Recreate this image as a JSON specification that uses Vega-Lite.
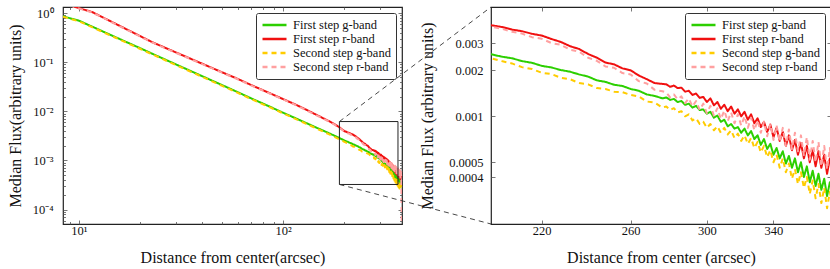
{
"$schema": "https://vega.github.io/schema/vega-lite/v6.json",
"padding": {"left": 6, "top": 5, "right": 0, "bottom": 0},
"background": "white",
"bounds": "flush",
"spacing": 89,
"config": {
  "font": "Liberation Serif",
  "view": {"stroke": "#222", "strokeWidth": 1.2},
  "axis": {"domain": false, "grid": false, "labelFont": "Liberation Serif", "titleFont": "Liberation Serif", "labelFontSize": 12.5, "titleFontSize": 16, "titleFontWeight": "normal", "labelColor": "#111", "titleColor": "#111", "tickColor": "#555", "tickWidth": 0.8},
  "legend": {"orient": "top-right", "offset": 6, "padding": 5, "strokeColor": "#333", "fillColor": "white", "cornerRadius": 2, "labelFont": "Liberation Serif", "labelFontSize": 12.5, "labelColor": "#111", "symbolType": "stroke", "symbolSize": 576, "symbolStrokeWidth": 2.5, "clipHeight": 14, "rowPadding": 0, "labelOffset": 5}
},
"resolve": {"scale": {"color": "independent", "strokeDash": "independent"}},
"datasets": {
"prof": [
{"s":"First step g-band","r":8.35,"f":0.86},{"s":"First step g-band","r":9,"f":0.79},{"s":"First step g-band","r":10,"f":0.70},{"s":"First step g-band","r":11,"f":0.586},{"s":"First step g-band","r":12,"f":0.498},{"s":"First step g-band","r":13.5,"f":0.399},{"s":"First step g-band","r":15,"f":0.328},{"s":"First step g-band","r":17.5,"f":0.246},{"s":"First step g-band","r":20,"f":0.192},{"s":"First step g-band","r":25,"f":0.126},{"s":"First step g-band","r":30,"f":0.0896},{"s":"First step g-band","r":40,"f":0.0524},{"s":"First step g-band","r":50,"f":0.0346},{"s":"First step g-band","r":60,"f":0.0246},{"s":"First step g-band","r":70,"f":0.0183},{"s":"First step g-band","r":85,"f":0.0128},{"s":"First step g-band","r":100,"f":0.00939},{"s":"First step g-band","r":115,"f":0.00727},{"s":"First step g-band","r":130,"f":0.00578},{"s":"First step g-band","r":145,"f":0.00471},{"s":"First step g-band","r":160,"f":0.00393},{"s":"First step g-band","r":175,"f":0.00333},{"s":"First step g-band","r":188,"f":0.0029},
{"s":"First step g-band","r":200,"f":0.00255},{"s":"First step g-band","r":204,"f":0.00246},{"s":"First step g-band","r":208,"f":0.00240},{"s":"First step g-band","r":212,"f":0.00230},{"s":"First step g-band","r":216,"f":0.00224},{"s":"First step g-band","r":220,"f":0.00214},{"s":"First step g-band","r":224,"f":0.00209},{"s":"First step g-band","r":228,"f":0.00201},{"s":"First step g-band","r":232,"f":0.00196},{"s":"First step g-band","r":236,"f":0.00188},{"s":"First step g-band","r":240,"f":0.00182},{"s":"First step g-band","r":244,"f":0.00172},{"s":"First step g-band","r":248,"f":0.00168},{"s":"First step g-band","r":252,"f":0.00161},{"s":"First step g-band","r":256,"f":0.00158},{"s":"First step g-band","r":260,"f":0.00151},{"s":"First step g-band","r":264,"f":0.00147},{"s":"First step g-band","r":268,"f":0.00139},{"s":"First step g-band","r":272,"f":0.00136},{"s":"First step g-band","r":276,"f":0.00131},
{"s":"First step g-band","r":278,"f":0.00133},{"s":"First step g-band","r":280,"f":0.00128},{"s":"First step g-band","r":282,"f":0.00130},{"s":"First step g-band","r":284,"f":0.00124},{"s":"First step g-band","r":286,"f":0.00126},{"s":"First step g-band","r":288,"f":0.00119},{"s":"First step g-band","r":290,"f":0.00121},{"s":"First step g-band","r":292,"f":0.00114},{"s":"First step g-band","r":294,"f":0.00117},{"s":"First step g-band","r":296,"f":0.00110},{"s":"First step g-band","r":298,"f":0.00111},{"s":"First step g-band","r":300,"f":0.00104},{"s":"First step g-band","r":302,"f":0.00107},{"s":"First step g-band","r":304,"f":0.00098},{"s":"First step g-band","r":306,"f":0.00101},{"s":"First step g-band","r":308,"f":0.00092},{"s":"First step g-band","r":310,"f":0.00095},{"s":"First step g-band","r":312,"f":0.00086},{"s":"First step g-band","r":314,"f":0.00089},{"s":"First step g-band","r":316,"f":0.00083},{"s":"First step g-band","r":318,"f":0.00085},{"s":"First step g-band","r":320,"f":0.00078},{"s":"First step g-band","r":322,"f":0.00083},{"s":"First step g-band","r":324,"f":0.00075},{"s":"First step g-band","r":326,"f":0.00080},{"s":"First step g-band","r":328,"f":0.00071},{"s":"First step g-band","r":330,"f":0.00075},{"s":"First step g-band","r":332,"f":0.00065},{"s":"First step g-band","r":334,"f":0.00071},{"s":"First step g-band","r":336,"f":0.00061},{"s":"First step g-band","r":338,"f":0.00066},{"s":"First step g-band","r":340,"f":0.00056},{"s":"First step g-band","r":342,"f":0.00062},{"s":"First step g-band","r":344,"f":0.00053},{"s":"First step g-band","r":346,"f":0.00059},{"s":"First step g-band","r":348,"f":0.00049},{"s":"First step g-band","r":350,"f":0.00055},{"s":"First step g-band","r":352,"f":0.00046},{"s":"First step g-band","r":354,"f":0.00053},{"s":"First step g-band","r":356,"f":0.00043},{"s":"First step g-band","r":358,"f":0.00050},{"s":"First step g-band","r":360,"f":0.00040},{"s":"First step g-band","r":362,"f":0.00047},{"s":"First step g-band","r":364,"f":0.00037},{"s":"First step g-band","r":366,"f":0.00044},{"s":"First step g-band","r":368,"f":0.00035},{"s":"First step g-band","r":370,"f":0.00042},{"s":"First step g-band","r":372,"f":0.00033},{"s":"First step g-band","r":374,"f":0.00039},{"s":"First step g-band","r":376,"f":0.00030},{"s":"First step g-band","r":378,"f":0.00037},{"s":"First step g-band","r":380,"f":0.00031},

{"s":"First step r-band","r":9,"f":1.45},{"s":"First step r-band","r":10,"f":1.26},{"s":"First step r-band","r":10.8,"f":1.147},{"s":"First step r-band","r":11.6,"f":1.05},{"s":"First step r-band","r":13,"f":0.829},{"s":"First step r-band","r":15,"f":0.615},{"s":"First step r-band","r":18,"f":0.421},{"s":"First step r-band","r":22.8,"f":0.257},{"s":"First step r-band","r":30,"f":0.157},{"s":"First step r-band","r":40,"f":0.094},{"s":"First step r-band","r":50,"f":0.063},{"s":"First step r-band","r":60,"f":0.0458},{"s":"First step r-band","r":70.5,"f":0.0337},{"s":"First step r-band","r":85,"f":0.024},{"s":"First step r-band","r":100,"f":0.0178},{"s":"First step r-band","r":115,"f":0.0138},{"s":"First step r-band","r":130,"f":0.0108},{"s":"First step r-band","r":145,"f":0.0086},{"s":"First step r-band","r":160,"f":0.0070},{"s":"First step r-band","r":175,"f":0.0058},{"s":"First step r-band","r":188,"f":0.0048},
{"s":"First step r-band","r":200,"f":0.00395},{"s":"First step r-band","r":204,"f":0.00385},{"s":"First step r-band","r":208,"f":0.00370},{"s":"First step r-band","r":212,"f":0.00361},{"s":"First step r-band","r":216,"f":0.00347},{"s":"First step r-band","r":220,"f":0.00338},{"s":"First step r-band","r":224,"f":0.00321},{"s":"First step r-band","r":228,"f":0.00307},{"s":"First step r-band","r":232,"f":0.00288},{"s":"First step r-band","r":236,"f":0.00276},{"s":"First step r-band","r":240,"f":0.00256},{"s":"First step r-band","r":244,"f":0.00242},{"s":"First step r-band","r":248,"f":0.00225},{"s":"First step r-band","r":252,"f":0.00219},{"s":"First step r-band","r":256,"f":0.00206},{"s":"First step r-band","r":260,"f":0.00200},{"s":"First step r-band","r":264,"f":0.00185},{"s":"First step r-band","r":268,"f":0.00175},{"s":"First step r-band","r":272,"f":0.00165},{"s":"First step r-band","r":276,"f":0.00163},
{"s":"First step r-band","r":278,"f":0.00162},{"s":"First step r-band","r":280,"f":0.00156},{"s":"First step r-band","r":282,"f":0.00159},{"s":"First step r-band","r":284,"f":0.00153},{"s":"First step r-band","r":286,"f":0.00154},{"s":"First step r-band","r":288,"f":0.00145},{"s":"First step r-band","r":290,"f":0.00147},{"s":"First step r-band","r":292,"f":0.00138},{"s":"First step r-band","r":294,"f":0.00141},{"s":"First step r-band","r":296,"f":0.00132},{"s":"First step r-band","r":298,"f":0.00134},{"s":"First step r-band","r":300,"f":0.00124},{"s":"First step r-band","r":302,"f":0.00131},{"s":"First step r-band","r":304,"f":0.00118},{"s":"First step r-band","r":306,"f":0.00124},{"s":"First step r-band","r":308,"f":0.00112},{"s":"First step r-band","r":310,"f":0.00119},{"s":"First step r-band","r":312,"f":0.00108},{"s":"First step r-band","r":314,"f":0.00116},{"s":"First step r-band","r":316,"f":0.00104},{"s":"First step r-band","r":318,"f":0.00111},{"s":"First step r-band","r":320,"f":0.00100},{"s":"First step r-band","r":322,"f":0.00107},{"s":"First step r-band","r":324,"f":0.00095},{"s":"First step r-band","r":326,"f":0.00103},{"s":"First step r-band","r":328,"f":0.00090},{"s":"First step r-band","r":330,"f":0.00097},{"s":"First step r-band","r":332,"f":0.00085},{"s":"First step r-band","r":334,"f":0.00092},{"s":"First step r-band","r":336,"f":0.00079},{"s":"First step r-band","r":338,"f":0.00088},{"s":"First step r-band","r":340,"f":0.00073},{"s":"First step r-band","r":342,"f":0.00084},{"s":"First step r-band","r":344,"f":0.00069},{"s":"First step r-band","r":346,"f":0.00079},{"s":"First step r-band","r":348,"f":0.00064},{"s":"First step r-band","r":350,"f":0.00075},{"s":"First step r-band","r":352,"f":0.00060},{"s":"First step r-band","r":354,"f":0.00070},{"s":"First step r-band","r":356,"f":0.00056},{"s":"First step r-band","r":358,"f":0.00067},{"s":"First step r-band","r":360,"f":0.00053},{"s":"First step r-band","r":362,"f":0.00064},{"s":"First step r-band","r":364,"f":0.00050},{"s":"First step r-band","r":366,"f":0.00060},{"s":"First step r-band","r":368,"f":0.00047},{"s":"First step r-band","r":370,"f":0.00059},{"s":"First step r-band","r":372,"f":0.00046},{"s":"First step r-band","r":374,"f":0.00056},{"s":"First step r-band","r":376,"f":0.00042},{"s":"First step r-band","r":378,"f":0.00053},{"s":"First step r-band","r":380,"f":0.00045},

{"s":"Second step g-band","r":8.35,"f":0.84},{"s":"Second step g-band","r":9,"f":0.77},{"s":"Second step g-band","r":10,"f":0.68},{"s":"Second step g-band","r":11,"f":0.57},{"s":"Second step g-band","r":12,"f":0.485},{"s":"Second step g-band","r":13.5,"f":0.388},{"s":"Second step g-band","r":15,"f":0.319},{"s":"Second step g-band","r":17.5,"f":0.239},{"s":"Second step g-band","r":20,"f":0.186},{"s":"Second step g-band","r":25,"f":0.122},{"s":"Second step g-band","r":30,"f":0.0868},{"s":"Second step g-band","r":40,"f":0.0507},{"s":"Second step g-band","r":50,"f":0.0335},{"s":"Second step g-band","r":60,"f":0.0238},{"s":"Second step g-band","r":70,"f":0.0177},{"s":"Second step g-band","r":85,"f":0.0124},{"s":"Second step g-band","r":100,"f":0.0091},{"s":"Second step g-band","r":115,"f":0.00703},{"s":"Second step g-band","r":130,"f":0.00558},{"s":"Second step g-band","r":145,"f":0.00453},{"s":"Second step g-band","r":160,"f":0.00377},{"s":"Second step g-band","r":175,"f":0.00316},{"s":"Second step g-band","r":188,"f":0.00272},
{"s":"Second step g-band","r":200,"f":0.00240},{"s":"Second step g-band","r":204,"f":0.00230},{"s":"Second step g-band","r":208,"f":0.00222},{"s":"Second step g-band","r":212,"f":0.00210},{"s":"Second step g-band","r":216,"f":0.00204},{"s":"Second step g-band","r":220,"f":0.00193},{"s":"Second step g-band","r":224,"f":0.00189},{"s":"Second step g-band","r":228,"f":0.00179},{"s":"Second step g-band","r":232,"f":0.00175},{"s":"Second step g-band","r":236,"f":0.00165},{"s":"Second step g-band","r":240,"f":0.00162},{"s":"Second step g-band","r":244,"f":0.00153},{"s":"Second step g-band","r":248,"f":0.00151},{"s":"Second step g-band","r":252,"f":0.00145},{"s":"Second step g-band","r":256,"f":0.00144},{"s":"Second step g-band","r":260,"f":0.00138},{"s":"Second step g-band","r":264,"f":0.00135},{"s":"Second step g-band","r":268,"f":0.00125},{"s":"Second step g-band","r":272,"f":0.00123},{"s":"Second step g-band","r":276,"f":0.00114},
{"s":"Second step g-band","r":278,"f":0.00116},{"s":"Second step g-band","r":280,"f":0.00110},{"s":"Second step g-band","r":282,"f":0.00113},{"s":"Second step g-band","r":284,"f":0.00106},{"s":"Second step g-band","r":286,"f":0.00108},{"s":"Second step g-band","r":288,"f":0.00100},{"s":"Second step g-band","r":290,"f":0.00103},{"s":"Second step g-band","r":292,"f":0.00094},{"s":"Second step g-band","r":294,"f":0.00097},{"s":"Second step g-band","r":296,"f":0.00089},{"s":"Second step g-band","r":298,"f":0.00092},{"s":"Second step g-band","r":300,"f":0.00084},{"s":"Second step g-band","r":302,"f":0.00089},{"s":"Second step g-band","r":304,"f":0.00081},{"s":"Second step g-band","r":306,"f":0.00086},{"s":"Second step g-band","r":308,"f":0.00078},{"s":"Second step g-band","r":310,"f":0.00084},{"s":"Second step g-band","r":312,"f":0.00076},{"s":"Second step g-band","r":314,"f":0.00081},{"s":"Second step g-band","r":316,"f":0.00072},{"s":"Second step g-band","r":318,"f":0.00077},{"s":"Second step g-band","r":320,"f":0.00069},{"s":"Second step g-band","r":322,"f":0.00075},{"s":"Second step g-band","r":324,"f":0.00066},{"s":"Second step g-band","r":326,"f":0.00072},{"s":"Second step g-band","r":328,"f":0.00062},{"s":"Second step g-band","r":330,"f":0.00068},{"s":"Second step g-band","r":332,"f":0.00058},{"s":"Second step g-band","r":334,"f":0.00064},{"s":"Second step g-band","r":336,"f":0.00054},{"s":"Second step g-band","r":338,"f":0.00060},{"s":"Second step g-band","r":340,"f":0.00050},{"s":"Second step g-band","r":342,"f":0.00056},{"s":"Second step g-band","r":344,"f":0.00046},{"s":"Second step g-band","r":346,"f":0.00053},{"s":"Second step g-band","r":348,"f":0.00043},{"s":"Second step g-band","r":350,"f":0.00049},{"s":"Second step g-band","r":352,"f":0.00039},{"s":"Second step g-band","r":354,"f":0.00045},{"s":"Second step g-band","r":356,"f":0.00036},{"s":"Second step g-band","r":358,"f":0.00043},{"s":"Second step g-band","r":360,"f":0.00034},{"s":"Second step g-band","r":362,"f":0.00040},{"s":"Second step g-band","r":364,"f":0.00031},{"s":"Second step g-band","r":366,"f":0.00038},{"s":"Second step g-band","r":368,"f":0.00029},{"s":"Second step g-band","r":370,"f":0.00036},{"s":"Second step g-band","r":372,"f":0.00027},{"s":"Second step g-band","r":374,"f":0.00034},{"s":"Second step g-band","r":376,"f":0.00025},{"s":"Second step g-band","r":378,"f":0.00032},{"s":"Second step g-band","r":380,"f":0.00026},

{"s":"Second step r-band","r":9,"f":1.43},{"s":"Second step r-band","r":10,"f":1.24},{"s":"Second step r-band","r":10.8,"f":1.13},{"s":"Second step r-band","r":11.6,"f":1.03},{"s":"Second step r-band","r":13,"f":0.815},{"s":"Second step r-band","r":15,"f":0.605},{"s":"Second step r-band","r":18,"f":0.414},{"s":"Second step r-band","r":22.8,"f":0.253},{"s":"Second step r-band","r":30,"f":0.154},{"s":"Second step r-band","r":40,"f":0.0925},{"s":"Second step r-band","r":50,"f":0.062},{"s":"Second step r-band","r":60,"f":0.045},{"s":"Second step r-band","r":70.5,"f":0.0331},{"s":"Second step r-band","r":85,"f":0.0236},{"s":"Second step r-band","r":100,"f":0.0175},{"s":"Second step r-band","r":115,"f":0.0136},{"s":"Second step r-band","r":130,"f":0.0106},{"s":"Second step r-band","r":145,"f":0.0084},{"s":"Second step r-band","r":160,"f":0.0069},{"s":"Second step r-band","r":175,"f":0.0057},{"s":"Second step r-band","r":188,"f":0.0047},
{"s":"Second step r-band","r":200,"f":0.00387},{"s":"Second step r-band","r":204,"f":0.00375},{"s":"Second step r-band","r":208,"f":0.00358},{"s":"Second step r-band","r":212,"f":0.00348},{"s":"Second step r-band","r":216,"f":0.00330},{"s":"Second step r-band","r":220,"f":0.00322},{"s":"Second step r-band","r":224,"f":0.00302},{"s":"Second step r-band","r":228,"f":0.00294},{"s":"Second step r-band","r":232,"f":0.00273},{"s":"Second step r-band","r":236,"f":0.00265},{"s":"Second step r-band","r":240,"f":0.00242},{"s":"Second step r-band","r":244,"f":0.00231},{"s":"Second step r-band","r":248,"f":0.00212},{"s":"Second step r-band","r":252,"f":0.00208},{"s":"Second step r-band","r":256,"f":0.00192},{"s":"Second step r-band","r":260,"f":0.00188},{"s":"Second step r-band","r":264,"f":0.00170},{"s":"Second step r-band","r":268,"f":0.00164},{"s":"Second step r-band","r":272,"f":0.00149},{"s":"Second step r-band","r":276,"f":0.00146},
{"s":"Second step r-band","r":278,"f":0.00143},{"s":"Second step r-band","r":280,"f":0.00133},{"s":"Second step r-band","r":282,"f":0.00139},{"s":"Second step r-band","r":284,"f":0.00129},{"s":"Second step r-band","r":286,"f":0.00135},{"s":"Second step r-band","r":288,"f":0.00122},{"s":"Second step r-band","r":290,"f":0.00131},{"s":"Second step r-band","r":292,"f":0.00116},{"s":"Second step r-band","r":294,"f":0.00126},{"s":"Second step r-band","r":296,"f":0.00110},{"s":"Second step r-band","r":298,"f":0.00121},{"s":"Second step r-band","r":300,"f":0.00105},{"s":"Second step r-band","r":302,"f":0.00117},{"s":"Second step r-band","r":304,"f":0.00101},{"s":"Second step r-band","r":306,"f":0.00113},{"s":"Second step r-band","r":308,"f":0.00096},{"s":"Second step r-band","r":310,"f":0.00109},{"s":"Second step r-band","r":312,"f":0.00093},{"s":"Second step r-band","r":314,"f":0.00106},{"s":"Second step r-band","r":316,"f":0.00090},{"s":"Second step r-band","r":318,"f":0.00103},{"s":"Second step r-band","r":320,"f":0.00087},{"s":"Second step r-band","r":322,"f":0.00100},{"s":"Second step r-band","r":324,"f":0.00084},{"s":"Second step r-band","r":326,"f":0.00098},{"s":"Second step r-band","r":328,"f":0.00081},{"s":"Second step r-band","r":330,"f":0.00094},{"s":"Second step r-band","r":332,"f":0.00078},{"s":"Second step r-band","r":334,"f":0.00092},{"s":"Second step r-band","r":336,"f":0.00074},{"s":"Second step r-band","r":338,"f":0.00089},{"s":"Second step r-band","r":340,"f":0.00070},{"s":"Second step r-band","r":342,"f":0.00087},{"s":"Second step r-band","r":344,"f":0.00068},{"s":"Second step r-band","r":346,"f":0.00084},{"s":"Second step r-band","r":348,"f":0.00064},{"s":"Second step r-band","r":350,"f":0.00082},{"s":"Second step r-band","r":352,"f":0.00061},{"s":"Second step r-band","r":354,"f":0.00078},{"s":"Second step r-band","r":356,"f":0.00059},{"s":"Second step r-band","r":358,"f":0.00075},{"s":"Second step r-band","r":360,"f":0.00055},{"s":"Second step r-band","r":362,"f":0.00073},{"s":"Second step r-band","r":364,"f":0.00052},{"s":"Second step r-band","r":366,"f":0.00069},{"s":"Second step r-band","r":368,"f":0.00050},{"s":"Second step r-band","r":370,"f":0.00068},{"s":"Second step r-band","r":372,"f":0.00047},{"s":"Second step r-band","r":374,"f":0.00064},{"s":"Second step r-band","r":376,"f":0.00045},{"s":"Second step r-band","r":378,"f":0.00062},{"s":"Second step r-band","r":380,"f":0.00040},{"s":"Second step r-band","r":382,"f":0.00005}
]
},
"hconcat": [
{
  "width": 339, "height": 217,
  "resolve": {"axis": {"x": "independent", "y": "independent"}},
  "layer": [
    {
      "data": {"name": "prof"},
      "mark": {"type": "line", "clip": true, "strokeWidth": 2, "strokeJoin": "round"},
      "encoding": {
        "x": {"field": "r", "type": "quantitative", "scale": {"type": "log", "domain": [8.35, 383], "nice": false},
              "axis": {"orient": "bottom", "values": [10, 100], "labelExpr": "datum.value < 50 ? '10¹' : '10²'", "tickSize": -4, "labelPadding": 4, "title": "Distance from center(arcsec)", "titlePadding": 13}},
        "y": {"field": "f", "type": "quantitative", "scale": {"type": "log", "domain": [0.000051, 1.33], "nice": false},
              "axis": {"orient": "left", "values": [0.0001, 0.001, 0.01, 0.1, 1], "labelExpr": "datum.value > 0.5 ? '10⁰' : datum.value > 0.05 ? '10⁻¹' : datum.value > 0.005 ? '10⁻²' : datum.value > 0.0005 ? '10⁻³' : '10⁻⁴'", "tickSize": -4, "labelPadding": 14, "title": "Median Flux(arbitrary units)", "titlePadding": 9}},
        "color": {"field": "s", "type": "nominal", "scale": {"domain": ["First step g-band", "First step r-band", "Second step g-band", "Second step r-band"], "range": ["#2ccf00", "#f01010", "#ffcc00", "#ffa0a0"]}, "legend": {"title": null}},
        "strokeDash": {"field": "s", "type": "nominal", "scale": {"domain": ["First step g-band", "First step r-band", "Second step g-band", "Second step r-band"], "range": [[1, 0], [1, 0], [5, 4], [5, 4]]}, "legend": {"title": null}}
      }
    },
    {
      "data": {"values": [{"r": 100, "f": 0.01}]},
      "mark": {"type": "point", "opacity": 0},
      "encoding": {
        "x": {"field": "r", "type": "quantitative", "axis": {"orient": "bottom", "values": [9, 20, 30, 40, 50, 60, 70, 80, 90, 200, 300], "labels": false, "tickSize": -2.5, "title": null}},
        "y": {"field": "f", "type": "quantitative", "axis": {"orient": "left", "values": [0.00006, 0.00007, 0.00008, 0.00009, 0.0002, 0.0003, 0.0004, 0.0005, 0.0006, 0.0007, 0.0008, 0.0009, 0.002, 0.003, 0.004, 0.005, 0.006, 0.007, 0.008, 0.009, 0.02, 0.03, 0.04, 0.05, 0.06, 0.07, 0.08, 0.09, 0.2, 0.3, 0.4, 0.5, 0.6, 0.7, 0.8, 0.9], "labels": false, "tickSize": -2.5, "title": null}}
      }
    },
    {
      "data": {"values": [{"r": 100, "f": 0.01}]},
      "mark": {"type": "point", "opacity": 0},
      "encoding": {
        "x": {"field": "r", "type": "quantitative", "axis": {"orient": "top", "values": [10, 100], "labels": false, "tickSize": -4, "title": null}},
        "y": {"field": "f", "type": "quantitative", "axis": {"orient": "right", "values": [0.0001, 0.001, 0.01, 0.1, 1], "labels": false, "tickSize": -4, "title": null}}
      }
    },
    {
      "data": {"values": [{"r": 100, "f": 0.01}]},
      "mark": {"type": "point", "opacity": 0},
      "encoding": {
        "x": {"field": "r", "type": "quantitative", "axis": {"orient": "top", "values": [9, 20, 30, 40, 50, 60, 70, 80, 90, 200, 300], "labels": false, "tickSize": -2.5, "title": null}},
        "y": {"field": "f", "type": "quantitative", "axis": {"orient": "right", "values": [0.00006, 0.00007, 0.00008, 0.00009, 0.0002, 0.0003, 0.0004, 0.0005, 0.0006, 0.0007, 0.0008, 0.0009, 0.002, 0.003, 0.004, 0.005, 0.006, 0.007, 0.008, 0.009, 0.02, 0.03, 0.04, 0.05, 0.06, 0.07, 0.08, 0.09, 0.2, 0.3, 0.4, 0.5, 0.6, 0.7, 0.8, 0.9], "labels": false, "tickSize": -2.5, "title": null}}
      }
    },
    {
      "data": {"values": [{"x1": 189, "x2": 366, "y1": 0.0062, "y2": 0.000325}]},
      "mark": {"type": "rect", "fill": null, "fillOpacity": 0, "stroke": "#222", "strokeWidth": 1},
      "encoding": {
        "x": {"field": "x1", "type": "quantitative", "axis": null},
        "x2": {"field": "x2"},
        "y": {"field": "y1", "type": "quantitative", "axis": null},
        "y2": {"field": "y2"}
      }
    },
    {
      "data": {"values": [{"x1": 189, "y1": 0.0062, "x2": 1046, "y2": 1.33}, {"x1": 189, "y1": 0.000325, "x2": 1046, "y2": 0.000051}]},
      "mark": {"type": "rule", "clip": false, "strokeDash": [5, 4], "color": "#333", "strokeWidth": 0.9},
      "encoding": {
        "x": {"field": "x1", "type": "quantitative", "axis": null},
        "x2": {"field": "x2"},
        "y": {"field": "y1", "type": "quantitative", "axis": null},
        "y2": {"field": "y2"}
      }
    }
  ]
},
{
  "width": 340, "height": 217,
  "resolve": {"axis": {"x": "independent", "y": "independent"}},
  "layer": [
    {
      "data": {"name": "prof"},
      "mark": {"type": "line", "clip": true, "strokeWidth": 2, "strokeJoin": "round"},
      "encoding": {
        "x": {"field": "r", "type": "quantitative", "scale": {"type": "log", "domain": [200, 378.8], "nice": false},
              "axis": {"orient": "bottom", "values": [220, 260, 300, 340], "format": "d", "tickSize": -4, "labelPadding": 4, "title": "Distance from center (arcsec)", "titlePadding": 13}},
        "y": {"field": "f", "type": "quantitative", "scale": {"type": "log", "domain": [0.000197, 0.0052], "nice": false},
              "axis": {"orient": "left", "values": [0.0004, 0.0005, 0.001, 0.002, 0.003], "format": "~g", "tickSize": -4, "labelPadding": 12, "title": "Median Flux (arbitrary units)", "titlePadding": 13}},
        "color": {"field": "s", "type": "nominal", "scale": {"domain": ["First step g-band", "First step r-band", "Second step g-band", "Second step r-band"], "range": ["#2ccf00", "#f01010", "#ffcc00", "#ffa0a0"]}, "legend": {"title": null}},
        "strokeDash": {"field": "s", "type": "nominal", "scale": {"domain": ["First step g-band", "First step r-band", "Second step g-band", "Second step r-band"], "range": [[1, 0], [1, 0], [5, 4], [5, 4]]}, "legend": {"title": null}}
      }
    },
    {
      "data": {"values": [{"r": 300, "f": 0.001}]},
      "mark": {"type": "point", "opacity": 0},
      "encoding": {
        "x": {"field": "r", "type": "quantitative", "axis": {"orient": "top", "values": [220, 260, 300, 340], "labels": false, "tickSize": -4, "title": null}},
        "y": {"field": "f", "type": "quantitative", "axis": {"orient": "right", "values": [0.0004, 0.0005, 0.001, 0.002, 0.003], "labels": false, "tickSize": -4, "title": null}}
      }
    }
  ]
}
]
}
